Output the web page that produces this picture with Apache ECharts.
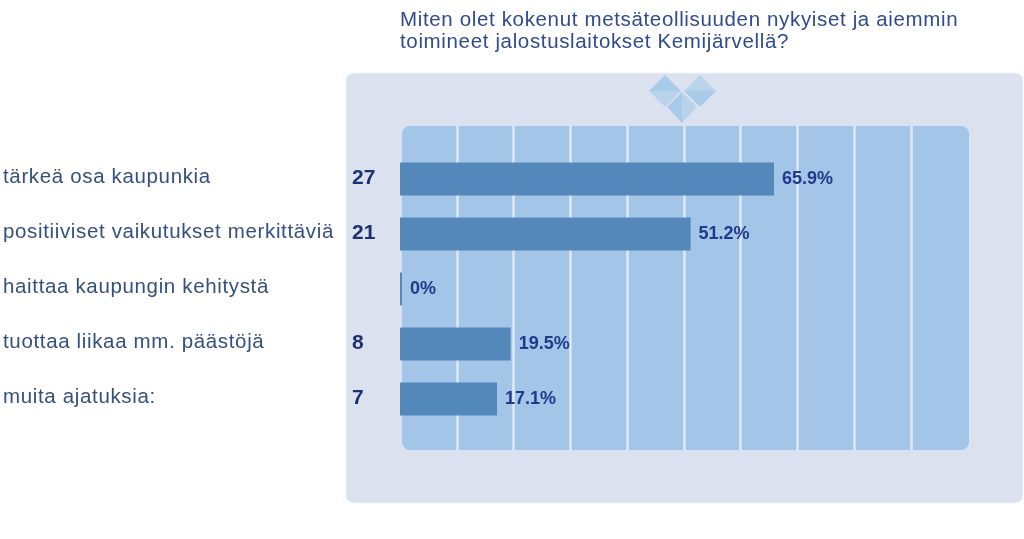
<!DOCTYPE html>
<html><head><meta charset="utf-8">
<style>html,body{margin:0;padding:0;background:#fff}#c{width:1024px;height:539px}</style>
<script src="https://cdn.jsdelivr.net/npm/echarts@6/dist/echarts.min.js"></script>
</head><body><div id="c"></div>
<script>
const titleLines = ['Miten olet kokenut metsäteollisuuden nykyiset ja aiemmin','toimineet jalostuslaitokset Kemijärvellä?'];
const categories = ['tärkeä osa kaupunkia','positiiviset vaikutukset merkittäviä','haittaa kaupungin kehitystä','tuottaa liikaa mm. päästöjä','muita ajatuksia:'];
const counts = ['27','21','','8','7'];
const percents = [65.9,51.2,0,19.5,17.1];
const percentLabels = ['65.9%','51.2%','0%','19.5%','17.1%'];
const FONT = '"Liberation Sans", Arial, sans-serif';
// The reference's regular text is set wide: apply tracking to non-bold text when it is painted.
const origFill = CanvasRenderingContext2D.prototype.fillText;
CanvasRenderingContext2D.prototype.fillText = function(t,x,y,m){
  this.letterSpacing = /bold/.test(this.font) ? '0px' : '0.65px';
  return m===undefined ? origFill.call(this,t,x,y) : origFill.call(this,t,x,y,m);
};
const chart = echarts.init(document.getElementById('c'),null,{renderer:'canvas'});
const diamond = (cx,cy,r,fill,fill2)=>[
  {type:'polygon',z:-5,shape:{points:[[cx-r,cy],[cx,cy-r],[cx+r,cy]]},style:{fill}},
  {type:'polygon',z:-5,shape:{points:[[cx-r,cy],[cx,cy+r],[cx+r,cy]]},style:{fill:fill2}}
];
chart.setOption({
  animation:false,
  backgroundColor:'#ffffff',
  graphic:{elements:[
    {type:'rect',z:-20,shape:{x:346,y:73,width:677,height:430,r:8},style:{fill:'#dce1f0',stroke:'#eef1f8',lineWidth:1}},
    {type:'rect',z:-10,shape:{x:402,y:126,width:567,height:324,r:8},style:{fill:'#a2c5e8'}},
    ...diamond(665,91,16,'#a8cbe9','#b8d3ea'),
    ...diamond(700,91,16,'#b8d3ea','#a8cbe9'),
    {type:'polygon',z:-4,shape:{points:[[682,92],[667,107],[682,123]]},style:{fill:'#a8cbe9'}},
    {type:'polygon',z:-4,shape:{points:[[682,92],[697,107],[682,123]]},style:{fill:'#b8d3ea'}},
    {type:'text',z:5,style:{x:400,y:10,text:titleLines[0],font:'20.5px '+FONT,fill:'#2f4a8f'}},
    {type:'text',z:5,style:{x:400,y:31.5,text:titleLines[1],font:'20.5px '+FONT,fill:'#2f4a8f'}}
  ]},
  grid:[
    {left:400,top:126,width:567.5,height:324},
    {left:400,top:151.5,width:567.5,height:275}
  ],
  xAxis:[
    {gridIndex:0,type:'value',min:0,max:100,interval:10,axisLine:{show:false},axisTick:{show:false},axisLabel:{show:false},
     splitLine:{show:true,showMinLine:false,showMaxLine:false,lineStyle:{color:'#dfe8f5',width:2.5}}},
    {gridIndex:1,type:'value',min:0,max:100,interval:10,axisLine:{show:false},axisTick:{show:false},axisLabel:{show:false},splitLine:{show:false}}
  ],
  yAxis:[
    {gridIndex:0,type:'category',data:[''],show:false},
    {gridIndex:1,type:'category',inverse:true,data:categories,axisLine:{show:false},axisTick:{show:false},
     axisLabel:{align:'left',margin:397,fontFamily:FONT,fontSize:20.5,color:'#34507f',verticalAlign:'bottom',lineHeight:4}},
    {gridIndex:1,type:'category',inverse:true,position:'left',data:counts,axisLine:{show:false},axisTick:{show:false},
     axisLabel:{align:'left',margin:48,fontFamily:FONT,fontSize:21,fontWeight:'bold',color:'#1c3170',verticalAlign:'bottom',lineHeight:2}}
  ],
  series:[{
    type:'bar',xAxisIndex:1,yAxisIndex:1,data:percents,barWidth:33,barMinHeight:2,
    itemStyle:{color:'#5488bb'},
    label:{show:true,position:'right',distance:8,fontFamily:FONT,fontSize:18,fontWeight:'bold',color:'#1f3a8a',
      formatter:p=>percentLabels[p.dataIndex]}
  }]
});
</script></body></html>
